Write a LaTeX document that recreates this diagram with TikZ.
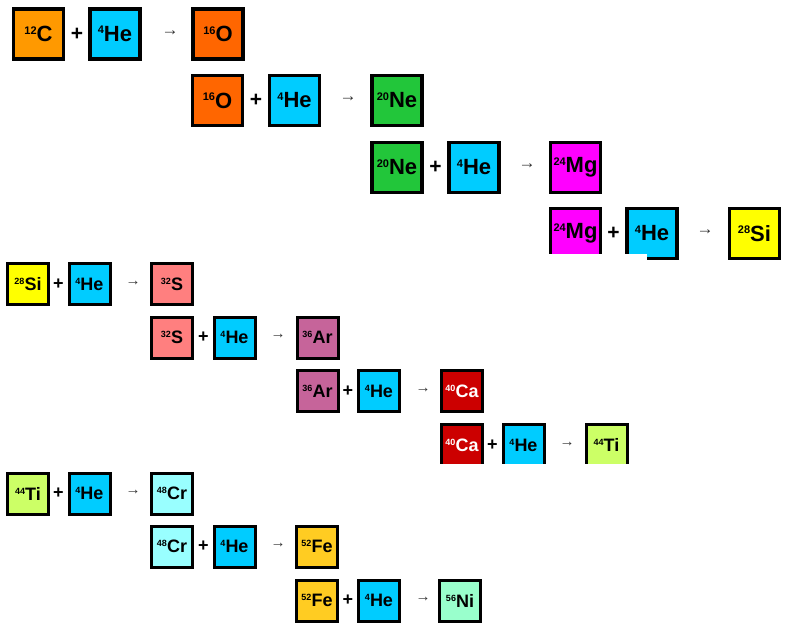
\documentclass[tikz,border=0pt]{standalone}
\usepackage{fontspec}
\setmainfont{Liberation Sans}
\definecolor{cC}{HTML}{FF9900}
\definecolor{cHe}{HTML}{00CCFF}
\definecolor{cO}{HTML}{FF6600}
\definecolor{cNe}{HTML}{22C63A}
\definecolor{cMg}{HTML}{FF00FF}
\definecolor{cSi}{HTML}{FFFF00}
\definecolor{cS}{HTML}{FF7F7F}
\definecolor{cAr}{HTML}{C6649A}
\definecolor{cCa}{HTML}{CC0000}
\definecolor{cTi}{HTML}{CCFF66}
\definecolor{cCr}{HTML}{99FFFF}
\definecolor{cFe}{HTML}{FFCC22}
\definecolor{cNi}{HTML}{99FFCC}
\newcommand\isoB[2]{\raisebox{7.5pt}{\fontsize{11}{11}\selectfont #1}#2}
\newcommand\isoS[2]{\raisebox{6pt}{\fontsize{9}{9}\selectfont #1}#2}
\tikzset{
  bigbox/.style={draw=black, line width=3.5pt, minimum size=50pt, inner sep=0pt,
    font=\fontsize{22}{22}\selectfont\bfseries, fill=#1},
  smallbox/.style={draw=black, line width=3pt, minimum size=41pt, inner sep=0pt,
    font=\fontsize{18}{18}\selectfont\bfseries, fill=#1},
  plusB/.style={inner sep=0pt, font=\fontsize{21}{21}\selectfont\bfseries},
  plusS/.style={inner sep=0pt, font=\fontsize{18}{18}\selectfont\bfseries},
  arrB/.style={inner sep=0pt, text=black!80, font=\fontsize{17}{17}\selectfont},
  arrS/.style={inner sep=0pt, text=black!80, font=\fontsize{15}{15}\selectfont},
  cutmask/.style={fill=white, draw=none}
}
\begin{document}
\begin{tikzpicture}[x=1pt, y=-1pt]
\useasboundingbox (0,0) rectangle (785,625);
% ---- big rows ----
% row 1
\node[bigbox=cC] (a1) at (38.5,34) {\isoB{12}{C}};
\node[plusB] (p1) at (77,34) {+};
\node[bigbox=cHe] (h1) at (115,34) {\isoB{4}{He}};
\node[arrB] (t1) at (170,33) {→};
\node[bigbox=cO] (b1) at (218,34) {\isoB{16}{O}};
% row 2
\node[bigbox=cO] (a2) at (217.5,100.5) {\isoB{16}{O}};
\node[plusB] (p2) at (256,100.5) {+};
\node[bigbox=cHe] (h2) at (294.5,100.5) {\isoB{4}{He}};
\node[arrB] (t2) at (348,99.5) {→};
\node[bigbox=cNe] (b2) at (397,100.5) {\isoB{20}{Ne}};
% row 3
\node[bigbox=cNe] (a3) at (397,167.5) {\isoB{20}{Ne}};
\node[plusB] (p3) at (435.5,167.5) {+};
\node[bigbox=cHe] (h3) at (474,167.5) {\isoB{4}{He}};
\node[arrB] (t3) at (527,166.5) {→};
\node[bigbox=cMg] (b3) at (575.5,167.5) {\isoB{24}{Mg}};
% row 4
\node[bigbox=cMg] (a4) at (575.5,233.5) {\isoB{24}{Mg}};
\node[plusB] (p4) at (613.5,233.5) {+};
\node[bigbox=cHe] (h4) at (652,233.5) {\isoB{4}{He}};
\node[arrB] (t4) at (705,232.5) {→};
\node[bigbox=cSi] (b4) at (754.5,233.5) {\isoB{28}{Si}};
\fill[cutmask] (545,253.5) rectangle (647,263);
% ---- small rows ----
% row 5
\node[smallbox=cSi] (a5) at (28,284) {\isoS{28}{Si}};
\node[plusS] (p5) at (58.5,284) {+};
\node[smallbox=cHe] (h5) at (89.5,284) {\isoS{4}{He}};
\node[arrS] (t5) at (133,283) {→};
\node[smallbox=cS] (b5) at (172,284) {\isoS{32}{S}};
% row 6
\node[smallbox=cS] (a6) at (172,337.5) {\isoS{32}{S}};
\node[plusS] (p6) at (203.5,337.5) {+};
\node[smallbox=cHe] (h6) at (234.5,337.5) {\isoS{4}{He}};
\node[arrS] (t6) at (278,336.5) {→};
\node[smallbox=cAr] (b6) at (317.5,337.5) {\isoS{36}{Ar}};
% row 7
\node[smallbox=cAr] (a7) at (317.5,391) {\isoS{36}{Ar}};
\node[plusS] (p7) at (348,391) {+};
\node[smallbox=cHe] (h7) at (379,391) {\isoS{4}{He}};
\node[arrS] (t7) at (423,390) {→};
\node[smallbox=cCa, text=white] (b7) at (462,391) {\isoS{40}{Ca}};
% row 8
\node[smallbox=cCa, text=white] (a8) at (462,445) {\isoS{40}{Ca}};
\node[plusS] (p8) at (492.5,445) {+};
\node[smallbox=cHe] (h8) at (523.5,445) {\isoS{4}{He}};
\node[arrS] (t8) at (567,444) {→};
\node[smallbox=cTi] (b8) at (606.5,445) {\isoS{44}{Ti}};
\fill[cutmask] (437,463.5) rectangle (632,469);
% row 9
\node[smallbox=cTi] (a9) at (28,493.5) {\isoS{44}{Ti}};
\node[plusS] (p9) at (58.5,493.5) {+};
\node[smallbox=cHe] (h9) at (89.5,493.5) {\isoS{4}{He}};
\node[arrS] (t9) at (133,492.5) {→};
\node[smallbox=cCr] (b9) at (172,493.5) {\isoS{48}{Cr}};
% row 10
\node[smallbox=cCr] (a10) at (172,546.5) {\isoS{48}{Cr}};
\node[plusS] (p10) at (203.5,546.5) {+};
\node[smallbox=cHe] (h10) at (234.5,546.5) {\isoS{4}{He}};
\node[arrS] (t10) at (278,545.5) {→};
\node[smallbox=cFe] (b10) at (317,546.5) {\isoS{52}{Fe}};
% row 11
\node[smallbox=cFe] (a11) at (317,600.5) {\isoS{52}{Fe}};
\node[plusS] (p11) at (348,600.5) {+};
\node[smallbox=cHe] (h11) at (379,600.5) {\isoS{4}{He}};
\node[arrS] (t11) at (423,599.5) {→};
\node[smallbox=cNi] (b11) at (460,600.5) {\isoS{56}{Ni}};
\end{tikzpicture}
\end{document}
